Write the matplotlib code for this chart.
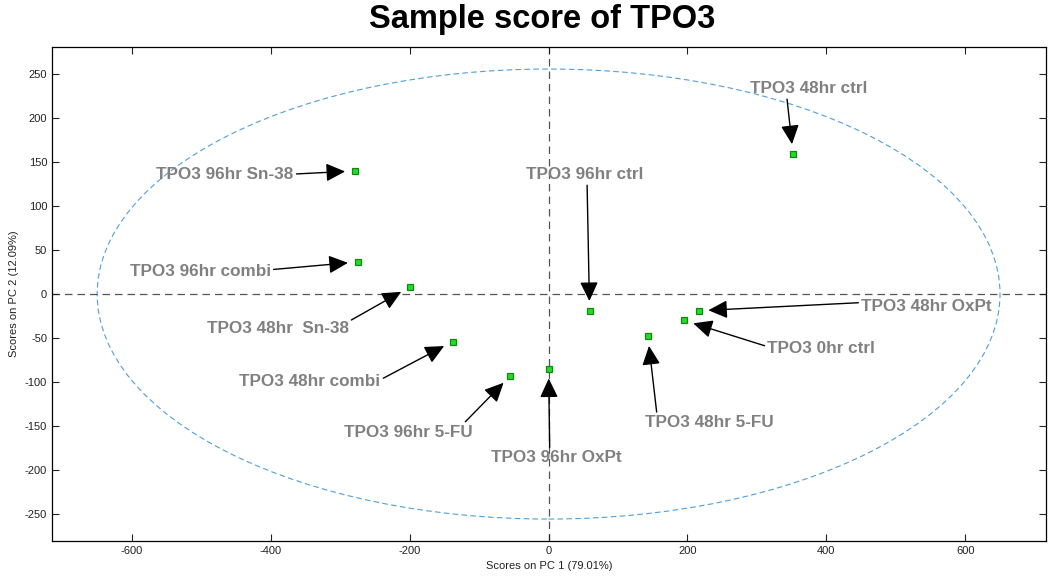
import matplotlib.pyplot as plt
from matplotlib.patches import Ellipse

plt.rcParams['font.family'] = ['Liberation Sans', 'DejaVu Sans']
plt.rcParams['axes.unicode_minus'] = False

# sample scores (PC1, PC2)
samples = ["TPO3 48hr ctrl", "TPO3 96hr Sn-38", "TPO3 96hr combi", "TPO3 48hr  Sn-38",
           "TPO3 96hr ctrl", "TPO3 48hr OxPt", "TPO3 0hr ctrl", "TPO3 48hr 5-FU",
           "TPO3 96hr OxPt", "TPO3 96hr 5-FU", "TPO3 48hr combi"]
pc1 = [352, -279, -275, -200, 59, 216, 195, 143, 0, -55, -138]
pc2 = [159.5, 140, 36.5, 8, -19, -19, -30, -48, -85, -93, -54]

# label placement: text anchor, alignment, arrow start on the text box
label_xy = [(375, 233.5), (-367, 136.5), (-400, 26), (-288, -39), (52, 135.5),
            (450, -14), (315, -61.5), (232, -146), (11, -186), (-109, -157), (-242, -100)]
label_ha = ["center", "right", "right", "right", "center",
            "left", "left", "center", "center", "right", "right"]
arrow_rel = [(0.31, 0.0), (1.0, 0.5), (1.0, 0.6), (1.0, 0.95), (0.52, 0.0),
             (0.0, 0.75), (0.0, 0.6), (0.09, 1.0), (0.45, 1.0), (0.92, 1.0), (1.0, 0.65)]

# confidence ellipse semi-axes
ell_a, ell_b = 650, 256

fig = plt.figure(figsize=(10.49, 5.81), dpi=100)
ax = fig.add_axes([0.0496, 0.0688, 0.9474, 0.8502])

ax.add_patch(Ellipse((0, 0), 2 * ell_a, 2 * ell_b, fill=False, ec="#4f9fdc",
                     lw=0.8, ls=(0, (5, 3))))
ax.axhline(0, color="#555555", lw=0.9, ls=(0, (6, 4)), zorder=1)
ax.axvline(0, color="#555555", lw=0.9, ls=(0, (6, 4)), zorder=1)

ax.plot(pc1, pc2, "s", ms=5, mfc="#22dd22", mec="#118811", mew=0.9, ls="none", zorder=3)

for i, name in enumerate(samples):
    ax.annotate(name, xy=(pc1[i], pc2[i]), xytext=label_xy[i], textcoords="data",
                ha=label_ha[i], va="center", fontsize=12.3, fontweight="bold",
                color="#808080",
                arrowprops=dict(arrowstyle="-|>,head_length=0.95,head_width=0.45",
                                color="black", lw=1.0, relpos=arrow_rel[i],
                                shrinkA=0, shrinkB=7))

ax.set_xlim(-715, 716)
ax.set_ylim(-281, 281)
ax.set_xticks([-600, -400, -200, 0, 200, 400, 600])
ax.set_yticks([-250, -200, -150, -100, -50, 0, 50, 100, 150, 200, 250])
ax.tick_params(direction="in", top=True, right=True, labelsize=8, colors="#222222",
               length=5, width=0.8)
for s in ax.spines.values():
    s.set_linewidth(0.9)
ax.set_xlabel("Scores on PC 1 (79.01%)", fontsize=8, color="#222222", labelpad=4)
ax.set_ylabel("Scores on PC 2 (12.09%)", fontsize=8, color="#222222", labelpad=4)
fig.text(0.517, 0.966, "Sample score of TPO3", fontsize=23.5, fontweight="bold",
         ha="center", va="center")

fig.savefig("out.png", dpi=100)
